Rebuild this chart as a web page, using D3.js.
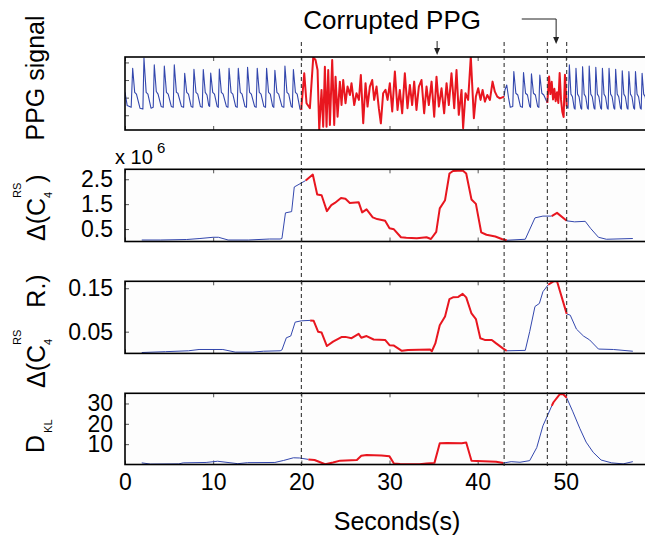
<!DOCTYPE html>
<html>
<head>
<meta charset="utf-8">
<script src="https://cdn.jsdelivr.net/npm/d3@7"></script>
<style>
  body { margin: 0; background: #fff; }
  svg { display: block; font-family: "Liberation Sans", Arial, Helvetica, sans-serif; }
</style>
</head>
<body>
<svg id="chart" width="645" height="541"></svg>
<script>
// ---- data ----
var xTicks = [0, 10, 20, 30, 40, 50];
var markers = [20, 43, 47.9, 50.1];          // dashed verticals (s)
var ppgCorrupt = [[20, 43], [47.9, 50.1]];
var metricCorrupt = [[20.6, 43.1], [48.3, 50.15]];

var ppgTicks = [0, 1, 2, 3];
var deltaTicks = [0.5, 1.5, 2.5];
var ratioTicks = [0.05, 0.15];
var klTicks = [10, 20, 30];

// PPG trace (arbitrary units)
var ppg = [
  [0.0,1.3],[0.25,0.55],[0.7,0.45],
  [0.87,2.67],[1.1,1.3],[1.3,1.2],[1.7,0.4],[2.03,0.35],
  [2.15,3.25],[2.4,1.3],[2.6,1.2],[2.95,0.4],[3.2,0.45],
  [3.32,2.86],[3.55,1.35],[3.75,1.2],[4.1,0.5],[4.34,0.45],
  [4.46,2.8],[4.7,1.3],[4.9,1.2],[5.25,0.5],[5.47,0.45],
  [5.59,2.86],[5.83,1.3],[6.0,1.25],[6.4,0.5],[6.65,0.45],
  [6.77,2.39],[7.0,1.3],[7.2,1.2],[7.5,0.5],[7.7,0.45],
  [7.82,2.61],[8.05,1.3],[8.25,1.2],[8.55,0.5],[8.76,0.45],
  [8.88,2.6],[9.1,1.3],[9.3,1.15],[9.5,0.55],[9.6,0.5],
  [9.72,2.4],[9.95,1.3],[10.15,1.2],[10.45,0.5],[10.58,0.45],
  [10.7,2.62],[10.93,1.3],[11.13,1.2],[11.5,0.5],[11.68,0.45],
  [11.8,2.67],[12.03,1.3],[12.23,1.2],[12.55,0.5],[12.73,0.45],
  [12.85,2.67],[13.08,1.3],[13.28,1.2],[13.6,0.5],[13.78,0.45],
  [13.9,2.73],[14.13,1.3],[14.33,1.2],[14.7,0.5],[14.88,0.45],
  [15.0,2.67],[15.23,1.3],[15.43,1.2],[15.75,0.5],[15.94,0.45],
  [16.06,2.67],[16.28,1.3],[16.48,1.2],[16.75,0.5],[16.88,0.45],
  [17.0,2.55],[17.23,1.3],[17.43,1.2],[17.8,0.5],[18.02,0.45],
  [18.14,2.8],[18.37,1.3],[18.57,1.2],[18.85,0.5],[18.98,0.45],
  [19.1,2.6],[19.33,1.3],[19.53,1.2],[19.85,0.35],[20.0,0.3],
  // corrupted stretch
  [20.03,0.58],[20.33,2.38],[20.59,0.68],[20.97,0.4],[21.35,3.29],[21.61,3.14],
  [21.84,2.57],[22.03,-0.84],[22.29,1.44],[22.48,-0.65],[22.67,2.76],[22.86,-0.65],
  [23.05,2.57],[23.24,-0.55],[23.5,3.14],[23.73,-0.55],[23.88,2.19],[24.11,-0.08],
  [24.37,1.91],[24.56,0.58],[24.75,2.0],[25.01,0.68],[25.24,1.63],[25.51,1.15],
  [25.69,1.82],[26.0,0.58],[26.26,1.25],[26.53,0.87],[26.75,2.29],[27.02,-0.46],
  [27.28,1.82],[27.51,0.49],[27.77,1.63],[28.04,2.0],[28.26,0.87],[28.53,1.63],
  [28.79,0.4],[29.02,-0.46],[29.28,1.25],[29.55,1.44],[29.78,0.87],[30.04,1.82],
  [30.31,0.21],[30.61,2.48],[30.91,0.3],[31.17,1.44],[31.44,0.11],[31.74,2.38],
  [32.04,0.4],[32.31,1.72],[32.57,0.58],[32.8,1.91],[33.06,0.3],[33.33,1.63],
  [33.63,2.0],[33.93,0.11],[34.2,1.63],[34.46,0.58],[34.77,1.91],[35.07,-0.08],
  [35.33,2.19],[35.6,0.49],[35.9,1.53],[36.2,0.11],[36.47,1.82],[36.73,0.58],
  [37.03,2.38],[37.34,0.4],[37.6,2.57],[37.86,0.02],[38.17,1.44],[38.35,-0.74],
  [38.62,1.25],[38.92,0.87],[39.22,3.33],[39.57,-0.17],[39.8,1.06],[40.06,1.53],
  [40.33,0.87],[40.56,1.44],[40.82,0.77],[41.09,1.15],[41.39,0.87],[41.69,1.91],
  [41.95,1.34],[42.22,1.06],[42.52,0.96],[43.0,1.06],
  [43.1,1.45],[43.3,1.72],[43.5,1.0],[43.7,0.45],[43.98,0.5],
  [44.1,2.48],[44.33,1.25],[44.55,1.15],[44.85,0.5],[45.08,0.45],
  [45.2,2.42],[45.43,1.25],[45.65,1.15],[45.9,0.5],[46.0,0.45],
  [46.1,2.35],[46.33,1.25],[46.55,1.15],[46.8,0.5],[46.94,0.45],
  [47.05,2.29],[47.28,1.25],[47.5,1.15],[47.9,0.7],
  [48.1,2.2],[48.25,1.2],[48.4,1.9],[48.55,0.9],[48.7,1.5],[48.85,0.8],[49.0,1.3],
  [49.15,0.7],[49.3,2.4],[49.45,0.9],[49.6,0.2],[49.75,-0.1],[49.9,2.3],[50.1,0.5],
  [50.25,0.4],[50.4,2.86],[50.58,1.2],[50.75,1.05],[50.95,0.4],[51.05,0.35],
  [51.15,2.67],[51.33,1.2],[51.5,1.05],[51.7,0.4],[51.8,0.35],
  [51.9,2.76],[52.08,1.2],[52.25,1.05],[52.45,0.4],[52.55,0.35],
  [52.65,2.8],[52.83,1.2],[53.0,1.05],[53.2,0.4],[53.3,0.35],
  [53.4,2.73],[53.58,1.2],[53.75,1.05],[53.95,0.4],[54.05,0.35],
  [54.15,2.67],[54.33,1.2],[54.5,1.05],[54.7,0.4],[54.8,0.35],
  [54.9,2.67],[55.08,1.2],[55.25,1.05],[55.45,0.4],[55.55,0.35],
  [55.65,2.61],[55.83,1.2],[56.0,1.05],[56.2,0.4],[56.3,0.35],
  [56.4,2.53],[56.58,1.2],[56.75,1.05],[56.95,0.4],[57.05,0.35],
  [57.15,2.48],[57.33,1.2],[57.5,1.05],[57.7,0.4],[57.8,0.35],
  [57.9,2.48],[58.08,1.2],[58.25,1.05],[58.45,0.4],[58.55,0.35],
  [58.65,2.39],[58.83,1.2],[59.0,1.05],[59.2,0.4]
];

// Delta(C4 RS), x 10^6
var delta = [
  [1.9,0.06],[4,0.06],[7,0.08],[8.5,0.12],[10,0.17],[10.6,0.17],[11.7,0.06],[14,0.06],
  [16.4,0.1],[17.6,0.1],[17.8,0.12],[18.2,1.15],[18.9,1.2],[19.2,2.19],[20,2.35],[20.5,2.45],
  [21.3,2.69],[21.8,1.89],[22.3,1.86],[22.9,1.22],[23.4,1.46],[23.8,1.55],[24.5,1.75],[25,1.72],
  [25.5,1.55],[26.5,1.58],[26.9,1.17],[27.4,1.29],[28.1,0.97],[28.6,0.9],[29.5,0.83],[30,0.53],
  [30.5,0.49],[31.3,0.17],[31.9,0.15],[33.1,0.13],[34.2,0.17],[34.7,0.1],[35.3,0.39],[35.7,1.33],
  [36.3,1.66],[36.8,2.73],[37.2,2.83],[38.3,2.85],[38.7,2.73],[39.3,1.69],[39.8,1.51],[40.4,0.37],
  [41,0.27],[42,0.2],[42.8,0.09],[43.3,0.05],[45.4,0.09],[46.5,0.95],[47.4,1.02],[48.4,1.02],
  [49,1.15],[50.1,0.83],[51,0.79],[52.2,0.81],[52.8,0.53],[53.7,0.17],[54.6,0.09],[57.6,0.12]
];

// Delta(C4 RS R.)
var ratio = [
  [1.9,0.002],[4.6,0.004],[7.2,0.006],[8.4,0.009],[11.1,0.009],[12.5,0.003],[14.5,0.003],
  [15.7,0.005],[17.6,0.006],[17.8,0.008],[18.3,0.036],[18.8,0.04],[19.3,0.072],[20,0.075],
  [21,0.076],[21.4,0.075],[21.9,0.05],[22.3,0.048],[22.9,0.017],[23.6,0.027],[24.6,0.038],
  [25,0.038],[25.7,0.035],[26.5,0.045],[26.8,0.036],[27.4,0.04],[28.2,0.032],[29.5,0.031],
  [30,0.019],[30.5,0.018],[31.4,0.006],[32.1,0.008],[34.6,0.009],[34.8,0.005],[35.2,0.023],
  [35.7,0.065],[36.3,0.085],[36.8,0.125],[37.2,0.129],[37.8,0.13],[38.3,0.137],[38.7,0.129],
  [39.3,0.092],[39.8,0.079],[40.3,0.035],[40.8,0.031],[41.6,0.031],[42.1,0.023],[42.9,0.011],
  [43.3,0.006],[45.4,0.007],[45.9,0.05],[46.5,0.108],[47,0.115],[47.4,0.142],[48,0.158],
  [48.6,0.166],[49,0.166],[50.1,0.091],[50.5,0.088],[51.2,0.056],[52,0.04],[52.7,0.031],
  [53.7,0.01],[55.4,0.009],[57.6,0.005]
];

// D_KL
var kl = [
  [1.9,0.8],[2.9,0.2],[6.1,0.3],[6.6,0.8],[9.2,1.0],[10.5,1.6],[12.8,0.4],[13.9,0.9],[17,1.0],
  [18,2.0],[19.1,3.3],[19.8,3.2],[20.8,2.5],[21.5,2.2],[22.7,0.1],[23.6,1.0],[24.4,1.9],
  [26.3,2.2],[26.8,4.3],[27.4,4.7],[29.1,4.4],[30,4.0],[30.5,0.5],[31.2,0.3],[33.4,0.1],
  [34.2,0.5],[35.1,0.8],[35.7,10.5],[36.5,10.6],[38.2,10.5],[38.7,10.8],[39.3,1.8],[39.9,1.7],
  [42.1,1.4],[42.9,0.7],[43.8,1.4],[44.8,1.1],[45.9,1.9],[46.7,8.3],[47.4,19],[48,24.8],
  [48.4,28.8],[48.6,30.6],[49.3,34.5],[49.7,34.5],[50.1,32.8],[50.8,25.9],[51.6,17.6],
  [52.3,11],[53.1,6],[54,2.2],[55.2,0.8],[56.5,0.3],[57.6,1.4]
];

// ---- drawing ----
var blue = '#3347ad', red = '#e8161f';
var svg = d3.select('#chart');
var x = d3.scaleLinear().domain([0, 60]).range([125, 654]);

var panels = [
  {data: ppg, top: 57, bottom: 130, domain: [-0.84, 3.31], ticks: ppgTicks, fmt: '', spans: ppgCorrupt, wBlue: 1.1, wRed: 2},
  {data: delta, top: 169.3, bottom: 241.5, domain: [0, 2.9], ticks: deltaTicks, fmt: '.1f', spans: metricCorrupt, wBlue: 1, wRed: 2},
  {data: ratio, top: 281.3, bottom: 353.4, domain: [0, 0.166], ticks: ratioTicks, fmt: '.2f', spans: metricCorrupt, wBlue: 1, wRed: 2},
  {data: kl, top: 393.3, bottom: 464.5, domain: [0, 35], ticks: klTicks, fmt: 'd', spans: metricCorrupt, wBlue: 1, wRed: 2}
];

function inSpan(t, spans) {
  return spans.some(function(s) { return t >= s[0] && t <= s[1]; });
}

function splitRuns(points, spans) {
  var out = [], cur = null;
  for (var i = 1; i < points.length; i++) {
    var a = points[i - 1], b = points[i];
    var isRed = inSpan((a[0] + b[0]) / 2, spans);
    if (!cur || cur.red !== isRed) { cur = {red: isRed, pts: [a]}; out.push(cur); }
    cur.pts.push(b);
  }
  return out;
}

panels.forEach(function(p, i) {
  var y = d3.scaleLinear().domain(p.domain).range([p.bottom, p.top]);
  var g = svg.append('g').attr('class', 'panel');

  g.append('clipPath').attr('id', 'clip' + i)
    .append('rect')
    .attr('x', x(0)).attr('y', p.top)
    .attr('width', x(60) - x(0)).attr('height', p.bottom - p.top);

  g.append('rect')
    .attr('x', x(0)).attr('y', p.top)
    .attr('width', x(60) - x(0)).attr('height', p.bottom - p.top)
    .attr('fill', '#fdfdfd');

  // ticks, MATLAB style (pointing in)
  var last = i === panels.length - 1;
  var bottomAxis = d3.axisBottom(x).tickValues(xTicks).tickSize(-4).tickPadding(9);
  if (!last) bottomAxis.tickFormat('');
  var ax = g.append('g').attr('transform', 'translate(0,' + p.bottom + ')').call(bottomAxis);
  var tx = g.append('g').attr('transform', 'translate(0,' + p.top + ')')
    .call(d3.axisTop(x).tickValues(xTicks).tickSize(-4).tickFormat(''));
  var leftAxis = d3.axisLeft(y).tickValues(p.ticks).tickSize(-4).tickPadding(12);
  leftAxis.tickFormat(p.fmt ? d3.format(p.fmt) : '');
  var ay = g.append('g').attr('transform', 'translate(' + x(0) + ',0)').call(leftAxis);

  [ax, tx, ay].forEach(function(a) {
    a.select('.domain').remove();
    a.selectAll('line').attr('stroke', '#555');
    a.selectAll('text').attr('fill', '#000').style('font-size', '23px')
      .style('font-family', '"Liberation Sans", Arial, sans-serif');
  });

  var line = d3.line().x(function(d) { return x(d[0]); }).y(function(d) { return y(d[1]); });
  var runs = splitRuns(p.data, p.spans);
  var lines = g.append('g').attr('clip-path', 'url(#clip' + i + ')');
  runs.filter(function(r) { return !r.red; }).forEach(function(r) {
    lines.append('path').attr('d', line(r.pts)).attr('fill', 'none')
      .attr('stroke', blue).attr('stroke-width', p.wBlue).attr('stroke-linejoin', 'round');
  });
  runs.filter(function(r) { return r.red; }).forEach(function(r) {
    lines.append('path').attr('d', line(r.pts)).attr('fill', 'none')
      .attr('stroke', red).attr('stroke-width', p.wRed).attr('stroke-linejoin', 'round');
  });

  g.append('rect')
    .attr('x', x(0)).attr('y', p.top)
    .attr('width', x(60) - x(0)).attr('height', p.bottom - p.top)
    .attr('fill', 'none').attr('stroke', '#000').attr('stroke-width', 1.6);
});

// dashed markers across all panels
svg.append('g').selectAll('line').data(markers).join('line')
  .attr('x1', function(d) { return x(d); }).attr('x2', function(d) { return x(d); })
  .attr('y1', 42).attr('y2', 466)
  .attr('stroke', '#222').attr('stroke-width', 1).attr('stroke-dasharray', '4,3');

// annotation
svg.append('text').attr('x', x(30.3)).attr('y', 29).attr('text-anchor', 'middle')
  .style('font-size', '26px').text('Corrupted PPG');

function arrowHead(px, py) {
  svg.append('path')
    .attr('d', 'M' + (px - 3) + ',' + (py - 7) + 'L' + (px + 3) + ',' + (py - 7) + 'L' + px + ',' + py + 'Z')
    .attr('fill', '#222');
}
svg.append('line').attr('x1', x(35.4)).attr('x2', x(35.4)).attr('y1', 41).attr('y2', 50)
  .attr('stroke', '#222').attr('stroke-width', 1);
arrowHead(x(35.4), 55);
svg.append('path')
  .attr('d', 'M' + x(45) + ',19H' + x(48.9) + 'V38')
  .attr('fill', 'none').attr('stroke', '#222').attr('stroke-width', 1);
arrowHead(x(48.9), 44);

// axis labels
svg.append('text').attr('x', 397).attr('y', 530).attr('text-anchor', 'middle')
  .style('font-size', '25px').text('Seconds(s)');

svg.append('text').attr('transform', 'translate(43.5,78) rotate(-90)')
  .attr('text-anchor', 'middle').style('font-size', '25px').text('PPG signal');

// rotated label built from pieces (sub/superscripts stacked like TeX)
function rotLabel(ox, oy, parts) {
  var lg = svg.append('g').attr('transform', 'translate(' + ox + ',' + oy + ') rotate(-90)');
  var u = 0, stackW = 0;
  parts.forEach(function(pt) {
    u += pt.gap || 0;
    var t = lg.append('text').attr('x', u).attr('y', pt.dy || 0)
      .style('font-size', pt.size + 'px').text(pt.text);
    var w = t.node().getComputedTextLength();
    if (pt.stack) { stackW = Math.max(stackW, w); }
    else { u += Math.max(w, stackW); stackW = 0; }
  });
}

rotLabel(45, 241, [
  {text: '\u0394(C', size: 25},
  {text: 'RS', size: 11, dy: -24, stack: true},
  {text: '4', size: 11, dy: 7},
  {text: ' )', size: 25}
]);
rotLabel(45, 388, [
  {text: '\u0394(C', size: 25},
  {text: 'RS', size: 11, dy: -24, stack: true},
  {text: '4', size: 11, dy: 7},
  {text: 'R.)', size: 25, gap: 22}
]);
rotLabel(43.5, 453, [
  {text: 'D', size: 25},
  {text: 'KL', size: 11, dy: 8, gap: 2}
]);

// exponent of the second panel
svg.append('text').attr('x', 115).attr('y', 164).style('font-size', '20px').text('x 10');
svg.append('text').attr('x', 157).attr('y', 153).style('font-size', '15px').text('6');
</script>
</body>
</html>
